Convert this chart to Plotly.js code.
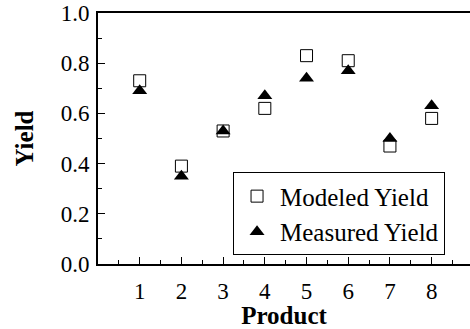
<!DOCTYPE html>
<html><head><meta charset="utf-8">
<script src="https://cdn.plot.ly/plotly-3.0.1.min.js"></script>
<style>html,body{margin:0;padding:0;background:#fff;}</style>
</head><body>
<div id="chart" style="width:470px;height:329px;"></div>
<script>
const products = [1, 2, 3, 4, 5, 6, 7, 8];
const modeledYield = [0.73, 0.39, 0.53, 0.62, 0.83, 0.81, 0.47, 0.58];
const measuredYield = [0.69, 0.35, 0.53, 0.67, 0.74, 0.77, 0.50, 0.63];
const font = 'Liberation Serif';

const traces = [
  {x: products, y: modeledYield, name: 'Modeled Yield', type: 'scatter', mode: 'markers',
   marker: {symbol: 'square-open', size: 12, color: '#000', line: {width: 1, color: '#444'}}},
  {x: products, y: measuredYield, name: 'Measured Yield', type: 'scatter', mode: 'markers',
   marker: {symbol: 'triangle-up', size: 13, color: '#000'}}
];

const layout = {
  width: 470, height: 329,
  margin: {l: 98, r: 0, t: 13, b: 65},
  paper_bgcolor: '#fff', plot_bgcolor: '#fff',
  font: {family: font, size: 23, color: '#000'},
  showlegend: true,
  legend: {x: 0.363, y: 0.365, xanchor: 'left', yanchor: 'top',
    bordercolor: '#000', borderwidth: 1, bgcolor: '#fff',
    font: {family: font, size: 25, color: '#000'}, itemwidth: 36, tracegroupgap: 0},
  xaxis: {range: [0, 8.92], tickvals: products, ticks: 'inside', ticklen: 7, tickwidth: 1,
    tickcolor: '#000', showline: true, linecolor: '#000', linewidth: 2, mirror: true,
    showgrid: false, zeroline: false, tickfont: {family: font, size: 23},
    ticklabelstandoff: 5,
    minor: {dtick: 0.5, tick0: 0, ticks: 'inside', ticklen: 4, tickcolor: '#000', showgrid: false},
    title: {text: '<b>Product</b>', font: {family: font, size: 25}, standoff: 0}},
  yaxis: {range: [0, 1.0], dtick: 0.2, tickformat: '.1f', ticks: 'inside', ticklen: 7, tickwidth: 1,
    tickcolor: '#000', showline: true, linecolor: '#000', linewidth: 2, mirror: false,
    showgrid: false, zeroline: false, tickfont: {family: font, size: 23},
    ticklabeloverflow: 'allow', ticklabelstandoff: 2,
    minor: {dtick: 0.1, ticks: 'inside', ticklen: 4, tickcolor: '#000', showgrid: false},
    title: {text: '<b>Yield</b>', font: {family: font, size: 25}, standoff: 20}}
};

Plotly.newPlot('chart', traces, layout, {displayModeBar: false, staticPlot: true});
</script>
</body></html>
